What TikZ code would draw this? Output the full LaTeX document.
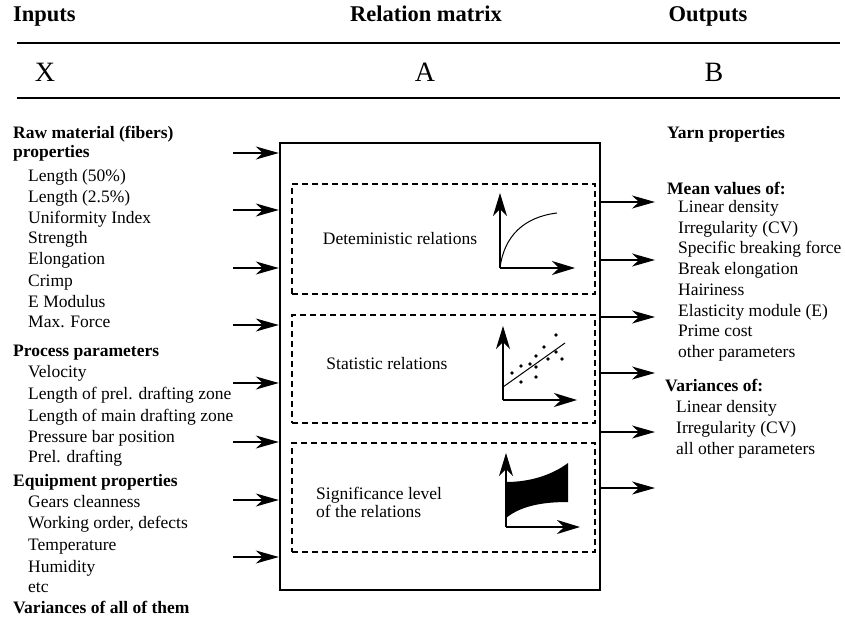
\documentclass[tikz,border=0pt]{standalone}
\usepackage{fontspec}
\setmainfont{Liberation Serif}
\usetikzlibrary{arrows.meta}
\tikzset{
  txt/.style={anchor=west, inner sep=0pt, text height=11pt, text depth=3pt, font=\fontsize{17.5}{21}\selectfont},
  btxt/.style={txt, font=\fontsize{17.5}{21}\selectfont\bfseries},
  head/.style={anchor=base, inner sep=0pt, font=\fontsize{22.5}{27}\selectfont\bfseries},
  sym/.style={anchor=base, inner sep=0pt, font=\fontsize{28}{32}\selectfont},
  arr/.style={-{Stealth[length=23pt,width=13pt,inset=7pt]}, line width=1.3pt},
  axarr/.style={-{Stealth[length=23pt,width=14pt,inset=7pt]}, line width=1.3pt},
  mainbox/.style={draw, line width=2.4pt, minimum width=320pt, minimum height=447pt, inner sep=0pt},
  dbox/.style={draw, line width=2pt, dash pattern=on 6pt off 4pt, minimum width=303pt, inner sep=0pt},
  rule/.style={line width=1.4pt}
}
\begin{document}
\begin{tikzpicture}[x=1pt, y=-1pt]
\useasboundingbox (0,0) rectangle (845,623);
% headers
\node[head, anchor=base west] (hin) at (13,22) {Inputs};
\node[head] (hrel) at (426,22) {Relation matrix};
\node[head] (hout) at (708,22) {Outputs};
\coordinate (r1a) at (17,43); \coordinate (r1b) at (840,43);
\coordinate (r2a) at (17,98); \coordinate (r2b) at (840,98);
\draw[rule] (r1a) -- (r1b);
\draw[rule] (r2a) -- (r2b);
\node[sym] (sx) at (45,82) {X};
\node[sym] (sa) at (425,82) {A};
\node[sym] (sb) at (714,82) {B};
% main box
\node[mainbox] (box) at (440,366.5) {};
\node[dbox, minimum height=110pt] (d1) at (443.5,239) {};
\node[dbox, minimum height=108pt] (d2) at (443.5,369) {};
\node[dbox, minimum height=109pt] (d3) at (443.5,497.5) {};
\node[txt, anchor=center] (t1) at (400,240) {Deteministic relations};
\node[txt, anchor=center] (t2) at (387,365) {Statistic relations};
\node[txt] (t3a) at (316,495) {Significance level};
\node[txt] (t3b) at (316,513) {of the relations};
% icon 1
\coordinate (o1) at (500,268);
\coordinate (y1) at (500,193);
\coordinate (x1) at (575,268);
\coordinate (c1) at (557,213);
\draw[axarr] (o1) -- (y1);
\draw[axarr] (o1) -- (x1);
\draw[line width=1pt] (o1) .. controls (504,236) and (524,217) .. (c1);
% icon 2
\coordinate (o2) at (503,400);
\coordinate (y2) at (503,326);
\coordinate (x2) at (577,400);
\coordinate (l2a) at (503,387);
\coordinate (l2b) at (565,343);
\draw[axarr] (o2) -- (y2);
\draw[axarr] (o2) -- (x2);
\draw[line width=1pt] (l2a) -- (l2b);
\foreach \p in {(512,373),(521,366),(530,364),(536,356),(536,367),(521,382),(536,377),(544,347),(556,335),(556,352),(548,359),(562,359)}
  \fill \p circle (1.9pt);
% icon 3
\coordinate (o3) at (506,527);
\coordinate (y3) at (506,453);
\coordinate (x3) at (580,527);
\draw[axarr] (o3) -- (y3);
\draw[axarr] (o3) -- (x3);
\fill (506,482) .. controls (530,482) and (552,475) .. (568,463) -- (568,502)
  .. controls (545,502) and (522,505) .. (506,518) -- cycle;
% input arrows
\foreach \i/\y in {1/153,2/210,3/268,4/325,5/383,6/442,7/500,8/557} {
  \coordinate (la\i) at (233,\y);
  \draw[arr] (la\i) -- (la\i -| box.west);
}
% output arrows
\foreach \i/\y in {1/202,2/260,3/317,4/373,5/432,6/488} {
  \coordinate (ra\i) at (655,\y);
  \draw[arr] (ra\i -| box.east) -- (ra\i);
}
% left texts
\node[btxt] (lb1) at (13,135) {Raw material (fibers)};
\node[btxt] (lb2) at (13,153) {properties};
\node[btxt] (lb3) at (13,352) {Process parameters};
\node[btxt] (lb4) at (13,482) {Equipment properties};
\node[btxt] (lb5) at (13,609) {Variances of all of them};
\foreach \i/\y/\t in {1/177/{Length (50\%)},2/198/{Length (2.5\%)},3/219/{Uniformity Index},4/239/{Strength},5/260/{Elongation},6/282/{Crimp},7/303/{E Modulus},8/323/{Max. Force},9/373/{Velocity},10/395/{Length of prel. drafting zone},11/417/{Length of main drafting zone},12/438/{Pressure bar position},13/458/{Prel. drafting},14/503/{Gears cleanness},15/524/{Working order, defects},16/546/{Temperature},17/568/{Humidity},18/588/{etc}}
  \node[txt] (li\i) at (28,\y) {\t};
% right texts
\node[btxt] (rb1) at (667,135) {Yarn properties};
\node[btxt] (rb2) at (667,190) {Mean values of:};
\node[btxt] (rb3) at (665,387) {Variances of:};
\foreach \i/\y/\t in {1/208/{Linear density},2/229/{Irregularity (CV)},3/249.5/{Specific breaking force},4/270/{Break elongation},5/291/{Hairiness},6/312/{Elasticity module (E)},7/332/{Prime cost},8/353/{other parameters}}
  \node[txt] (ri\i) at (678,\y) {\t};
\foreach \i/\y/\t in {9/408/{Linear density},10/429/{Irregularity (CV)},11/450/{all other parameters}}
  \node[txt] (ri\i) at (676,\y) {\t};
\end{tikzpicture}
\end{document}
